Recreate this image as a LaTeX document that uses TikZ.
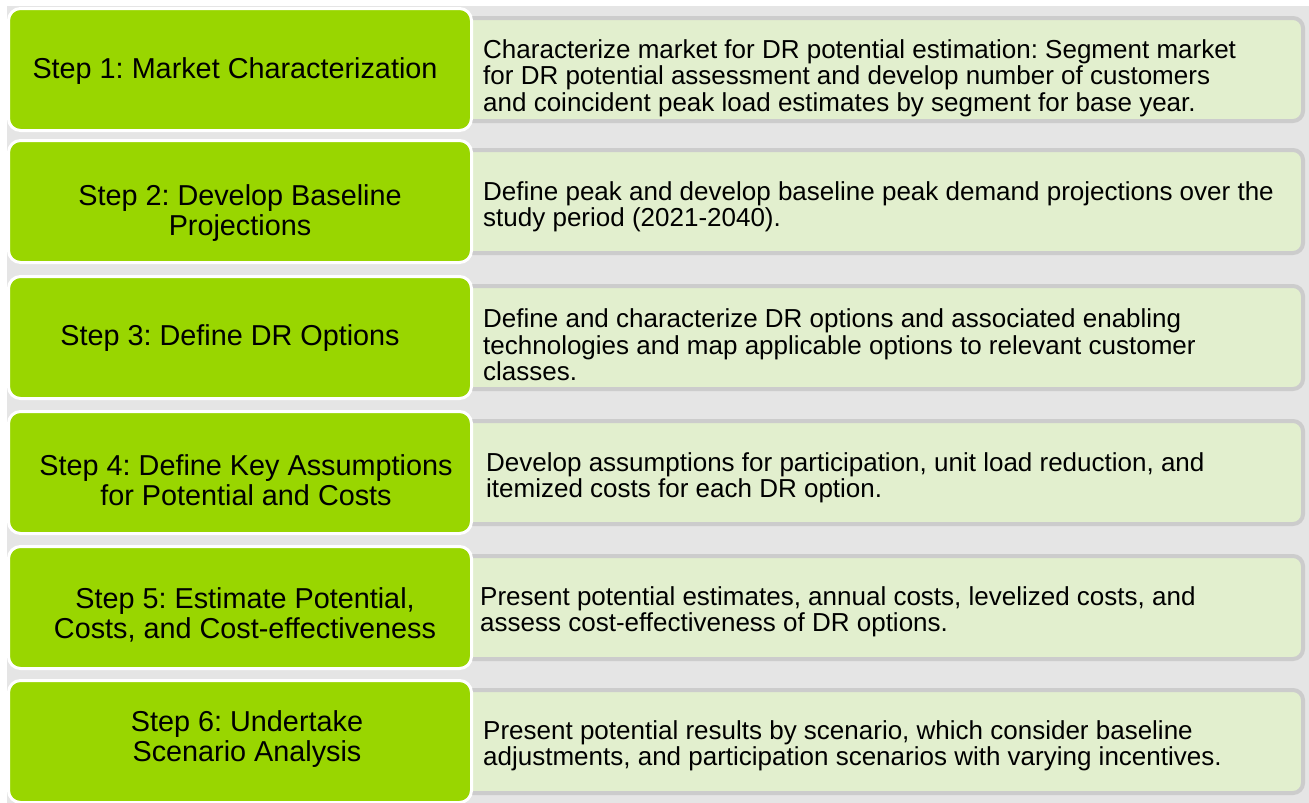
\documentclass[tikz,border=0pt]{standalone}
\usepackage{fontspec}
\setmainfont{Liberation Sans}
\usetikzlibrary{positioning}
\frenchspacing

\definecolor{stepgreen}{RGB}{153,214,0}
\definecolor{paneltint}{RGB}{226,239,206}
\definecolor{panelrim}{RGB}{204,204,204}
\definecolor{backgray}{RGB}{229,229,229}

\tikzset{
  stepbox/.style={draw=white, line width=3pt, fill=stepgreen, rounded corners=12pt,
    minimum width=463pt, minimum height=122pt, inner sep=0pt},
  panelbox/.style={draw=panelrim, line width=4pt, fill=paneltint, rounded corners=10pt,
    minimum width=863pt, minimum height=103pt, inner sep=0pt},
  steptext/.style={align=center, inner sep=0pt, font=\fontsize{28.8}{30}\selectfont},
  desctext/.style={align=left, anchor=west, inner sep=0pt, font=\fontsize{26}{26.5}\selectfont},
}

\begin{document}
\begin{tikzpicture}[x=1pt, y=-1pt]
            \useasboundingbox (0,0) rectangle (1309,803);
            \fill[backgray] (7,6) rectangle (1309,803);

            % right hand panels first, the green boxes sit over their left ends
            \node (panel1) [panelbox] at (871.5,69.5) {};
            \node (panel2) [panelbox] at (871.5,201.5) {};
            \node (panel3) [panelbox] at (871.5,337.5) {};
            \node (panel4) [panelbox] at (871.5,472.5) {};
            \node (panel5) [panelbox] at (871.5,607.5) {};
            \node (panel6) [panelbox] at (871.5,741.5) {};

            \node (step1) [stepbox] at (240,69.5) {};
            \node (step2) [stepbox] at (240,201.5) {};
            \node (step3) [stepbox] at (240,337.5) {};
            \node (step4) [stepbox] at (240,472.5) {};
            \node (step5) [stepbox] at (240,607.5) {};
            \node (step6) [stepbox] at (240,741.5) {};

            % step titles
            \node (title1) [steptext] at ([xshift=-5pt,yshift=-2pt]step1.center) {Step 1: Market Characterization};
            \node (title2) [steptext] at ([yshift=-12pt]step2.center) {Step 2: Develop Baseline\\Projections};
            \node (title3) [steptext] at ([xshift=-10pt,yshift=-1pt]step3.center) {Step 3: Define DR Options};
            \node (title4) [steptext] at ([xshift=6pt,yshift=-8pt]step4.center) {Step 4: Define Key Assumptions\\for Potential and Costs};
            \node (title5) [steptext] at ([xshift=5pt,yshift=-7pt]step5.center) {Step 5: Estimate Potential,\\Costs, and Cost-effectiveness};
            \node (title6) [steptext] at ([xshift=7pt,yshift=2pt]step6.center) {Step 6: Undertake\\Scenario Analysis};

            % descriptions
            \node (desc1) [desctext] at (483,78) {Characterize market for DR potential estimation: Segment market\\for DR potential assessment and develop number of customers\\and coincident peak load estimates by segment for base year.};
            \node (desc2) [desctext] at (483,207) {Define peak and develop baseline peak demand projections over the\\study period (2021-2040).};
            \node (desc3) [desctext] at (483,345) {Define and characterize DR options and associated enabling\\technologies and map applicable options to relevant customer\\classes.};
            \node (desc4) [desctext] at (486,478) {Develop assumptions for participation, unit load reduction, and\\itemized costs for each DR option.};
            \node (desc5) [desctext] at (480,612) {Present potential estimates, annual costs, levelized costs, and\\assess cost-effectiveness of DR options.};
            \node (desc6) [desctext] at (483,746) {Present potential results by scenario, which consider baseline\\adjustments, and participation scenarios with varying incentives.};

        \end{tikzpicture}
\end{document}
